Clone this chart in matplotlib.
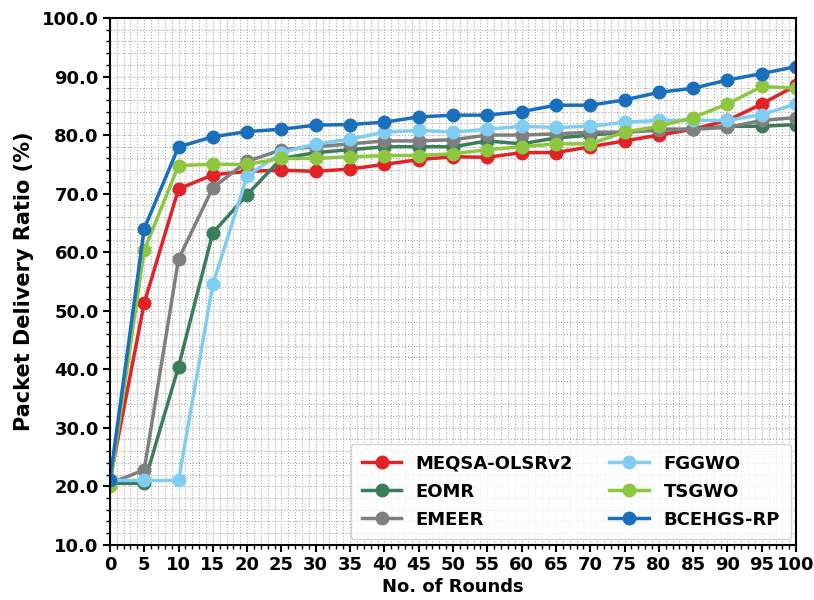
import matplotlib.pyplot as plt
import numpy as np
from matplotlib.ticker import MultipleLocator, FormatStrFormatter

rounds = [0, 5, 10, 15, 20, 25, 30, 35, 40, 45, 50, 55, 60, 65, 70, 75, 80, 85, 90, 95, 100]

meqsa = [21.0, 51.3, 70.8, 73.2, 73.8, 74.0, 73.8, 74.2, 75.0, 75.8, 76.3, 76.2, 77.0, 77.0, 78.0, 79.0, 80.0, 81.0, 82.5, 85.3, 88.5]
eomr = [20.5, 20.5, 40.4, 63.3, 69.8, 76.0, 77.0, 77.5, 78.0, 78.0, 78.0, 79.0, 78.5, 79.5, 80.0, 80.5, 81.0, 81.0, 81.5, 81.5, 81.8]
emeer = [20.5, 22.8, 58.8, 71.0, 75.5, 77.5, 78.0, 78.5, 79.0, 79.0, 79.2, 80.0, 80.0, 80.2, 80.5, 80.5, 80.8, 81.0, 81.3, 82.5, 83.0]
fggwo = [21.0, 21.0, 21.0, 54.5, 73.0, 77.0, 78.5, 79.3, 80.5, 80.8, 80.5, 81.0, 81.5, 81.3, 81.5, 82.2, 82.5, 82.5, 82.5, 83.5, 85.3]
tsgwo = [20.0, 60.3, 74.8, 75.0, 75.0, 76.0, 76.0, 76.3, 76.5, 76.5, 76.8, 77.5, 78.0, 78.5, 78.5, 80.5, 81.5, 83.0, 85.3, 88.3, 88.0]
bcehgs = [21.0, 64.0, 78.0, 79.7, 80.6, 81.0, 81.7, 81.8, 82.2, 83.1, 83.4, 83.4, 84.0, 85.1, 85.1, 86.0, 87.3, 88.0, 89.4, 90.5, 91.7]

fig = plt.figure(figsize=(8.14, 6), dpi=100)
ax = fig.add_axes([0.135, 0.092, 0.843, 0.878])

series = [
    ('MEQSA-OLSRv2', meqsa, '#e32227'),
    ('EOMR', eomr, '#3a7d5a'),
    ('EMEER', emeer, '#7f7f7f'),
    ('FGGWO', fggwo, '#7fcdf0'),
    ('TSGWO', tsgwo, '#8dc63f'),
    ('BCEHGS-RP', bcehgs, '#1a6fbd'),
]

for name, vals, col in series:
    ax.plot(rounds, vals, '-o', color=col, lw=2.5, ms=9, label=name)

ax.set_xlim(0, 100)
ax.set_ylim(10, 100)
ax.xaxis.set_major_locator(MultipleLocator(5))
ax.xaxis.set_minor_locator(MultipleLocator(1))
ax.yaxis.set_major_locator(MultipleLocator(10))
ax.yaxis.set_minor_locator(MultipleLocator(2))
ax.yaxis.set_major_formatter(FormatStrFormatter('%.1f'))

ax.grid(which='both', linestyle=':', color='#aaaaaa', lw=0.8)
ax.set_axisbelow(True)

ax.tick_params(which='major', length=5, width=1.5, pad=3)
ax.tick_params(which='minor', length=3, width=1)
for lab in ax.get_xticklabels() + ax.get_yticklabels():
    lab.set_fontweight('bold')
    lab.set_fontsize(13)
for s in ax.spines.values():
    s.set_linewidth(1.5)

ax.set_xlabel('No. of Rounds', fontsize=13, fontweight='bold', labelpad=3)
ax.set_ylabel('Packet Delivery Ratio (%)', fontsize=15, fontweight='bold', labelpad=6)

ax.legend(loc='lower right', ncol=2, prop={'weight': 'bold', 'size': 13},
          columnspacing=2.0, handlelength=2.2, handletextpad=0.8,
          borderaxespad=0.3, labelspacing=0.55, borderpad=0.6)

plt.savefig('out.png', dpi=100)
